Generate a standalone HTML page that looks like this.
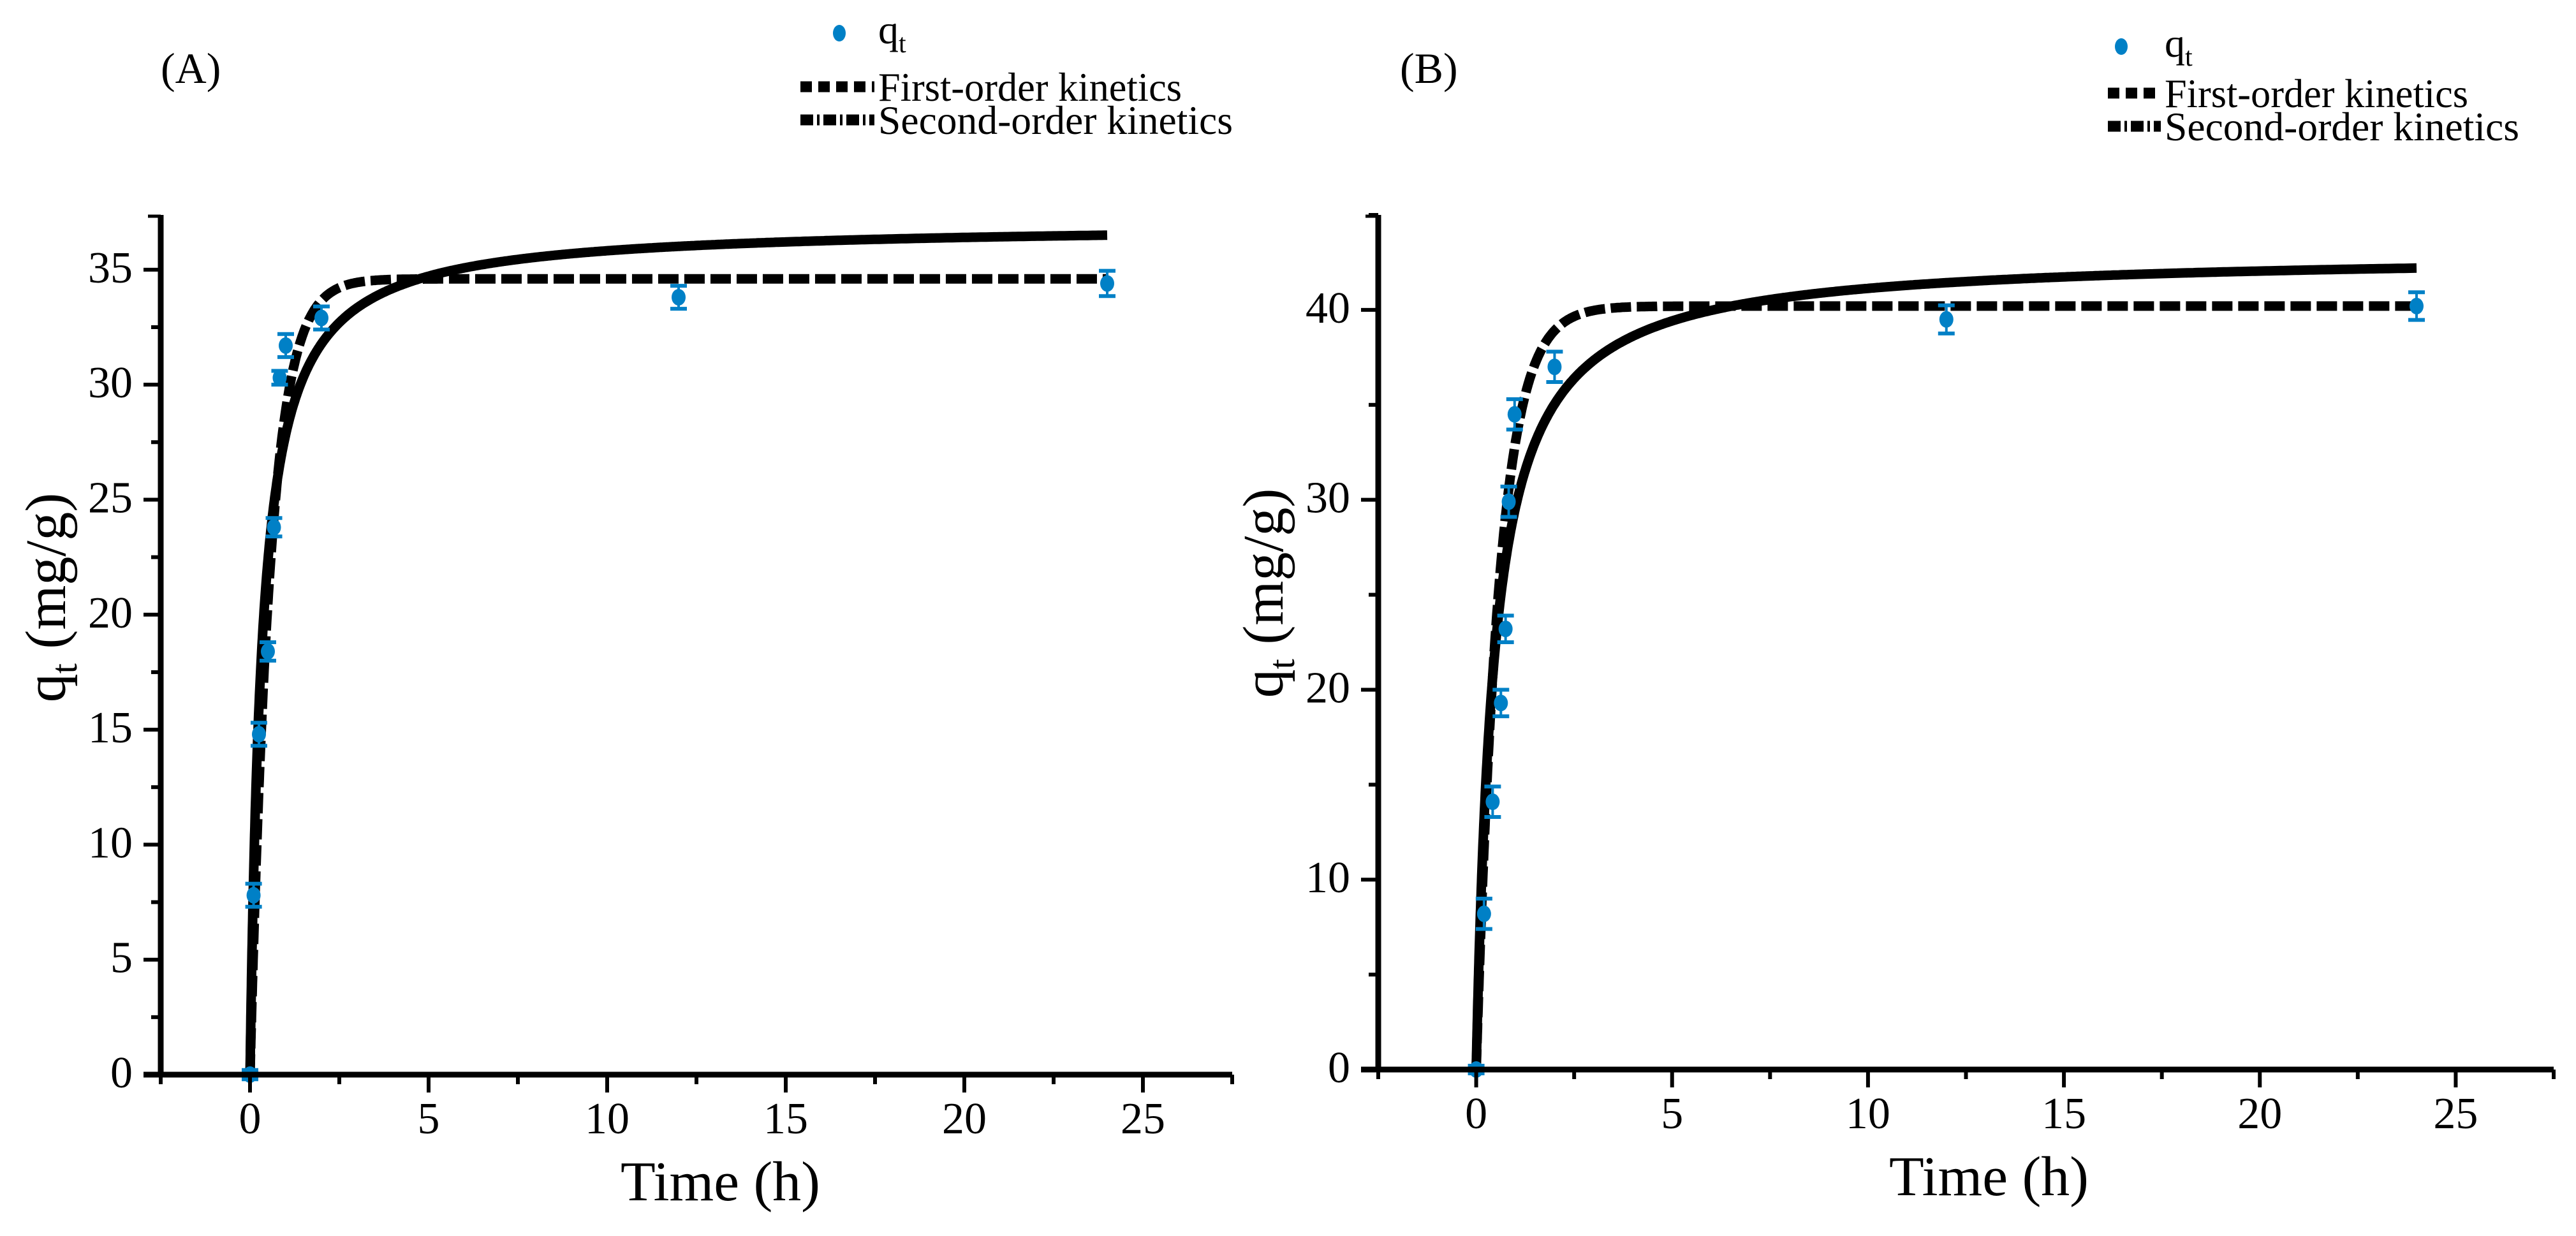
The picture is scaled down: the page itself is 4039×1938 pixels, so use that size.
<!DOCTYPE html>
<html><head><meta charset="utf-8"><style>
html,body{margin:0;padding:0;background:#fff;}
svg{display:block;font-family:"Liberation Serif",serif;}
</style></head><body>
<svg id="chart" width="4039" height="1938" viewBox="0 0 4039 1938" xmlns="http://www.w3.org/2000/svg">
<text x="252" y="130" font-size="68">(A)</text>
<text x="2195" y="130" font-size="68">(B)</text>
</svg>
<script>
// ---- data ----
const timesA = [0, 0.1, 0.25, 0.5, 0.67, 0.83, 1, 2, 12, 24];
const qtA = [0, 7.8, 14.8, 18.4, 23.8, 30.3, 31.7, 32.9, 33.8, 34.4];
const errA = [0.2, 0.5, 0.5, 0.4, 0.4, 0.3, 0.5, 0.5, 0.5, 0.55];
const timesB = [0, 0.2, 0.42, 0.63, 0.75, 0.83, 0.98, 2, 12, 24];
const qtB = [0, 8.2, 14.1, 19.3, 23.2, 29.9, 34.5, 37.0, 39.5, 40.2];
const errB = [0.2, 0.8, 0.8, 0.7, 0.7, 0.8, 0.8, 0.8, 0.74, 0.73];
// fitted model parameters [qe, k]
const firstOrderA = [34.6, 1.8];
const secondOrderA = [37.0, 0.0822];
const firstOrderB = [40.2, 1.72];
const secondOrderB = [43.0, 0.0512];
const xTicks = [0, 5, 10, 15, 20, 25];
const yTicksA = [0, 5, 10, 15, 20, 25, 30, 35];
const yTicksB = [0, 10, 20, 30, 40];

const NS = "http://www.w3.org/2000/svg";
const svg = document.getElementById('chart');
function mk(tag, attrs, parent){
  const e = document.createElementNS(NS, tag);
  for (const k in attrs) e.setAttribute(k, attrs[k]);
  (parent || svg).appendChild(e);
  return e;
}
function panel(cfg){
  const g = mk('g', {});
  
  
  const X = v => cfg.x0 + (v - cfg.xmin) / (cfg.xmax - cfg.xmin) * (cfg.x1 - cfg.x0);
  const Y = v => cfg.y0 - (v - cfg.ymin) / (cfg.ymax - cfg.ymin) * (cfg.y0 - cfg.y1);
  const N = 600;
  let d1 = '', d2 = '';
  for (let i = 0; i <= N; i++) {
    const t = 24 * Math.pow(i / N, 2);
    const f1 = cfg.fo[0] * (1 - Math.exp(-cfg.fo[1] * t));
    const qe = cfg.so[0], k = cfg.so[1];
    const f2 = qe * qe * k * t / (1 + qe * k * t);
    d1 += (i ? 'L' : 'M') + X(t).toFixed(1) + ' ' + Y(f1).toFixed(1);
    d2 += (i ? 'L' : 'M') + X(t).toFixed(1) + ' ' + Y(f2).toFixed(1);
  }
  const c2 = mk('path', {d: d2, fill: 'none', stroke: '#000', 'stroke-width': 15, 'stroke-linejoin': 'round'}, g);
  
  
  const c1 = mk('path', {d: d1, fill: 'none', stroke: '#000', 'stroke-width': 15, 'stroke-dasharray': '32 9'}, g);
  
  
  cfg.t.forEach((t, i) => {
    const px = X(t), py = Y(cfg.q[i]), e = cfg.e[i] * (cfg.y0 - cfg.y1) / (cfg.ymax - cfg.ymin);
    const pg = mk('g', {fill: '#0080c6', stroke: '#0080c6'}, g);
    
    
    mk('line', {x1: px, x2: px, y1: py - e, y2: py + e, 'stroke-width': 4}, pg);
    mk('line', {x1: px - 13, x2: px + 13, y1: py - e, y2: py - e, 'stroke-width': 6}, pg);
    mk('line', {x1: px - 13, x2: px + 13, y1: py + e, y2: py + e, 'stroke-width': 6}, pg);
    mk('ellipse', {cx: px, cy: py, rx: 11, ry: 13, stroke: 'none'}, pg);
  });
  const ax = mk('g', {stroke: '#000'}, g);
  
  
  mk('line', {x1: cfg.x0, x2: cfg.x0, y1: cfg.y1, y2: cfg.y0 + 4, 'stroke-width': 9}, ax);
  mk('line', {x1: cfg.x0 - 27, x2: cfg.x1, y1: cfg.y0, y2: cfg.y0, 'stroke-width': 9}, ax);
  for (let v = cfg.xmin; v <= cfg.xmax + 1e-6; v += 2.5) {
    const major = Math.abs(v / 5 - Math.round(v / 5)) < 1e-6;
    mk('line', {x1: X(v), x2: X(v), y1: cfg.y0, y2: cfg.y0 + (major ? 28 : 15), 'stroke-width': 6}, ax);
  }
  for (let v = cfg.ymin; v <= cfg.ymax + 1e-6; v += cfg.minor) {
    const major = Math.abs(v / cfg.major - Math.round(v / cfg.major)) < 1e-6;
    mk('line', {x1: cfg.x0 - (major ? 27 : 15), x2: cfg.x0, y1: Y(v), y2: Y(v), 'stroke-width': 6}, ax);
  }
  mk('line', {x1: cfg.x0 - 20, x2: cfg.x0, y1: cfg.y1 + 2, y2: cfg.y1 + 2, 'stroke-width': 5}, ax);
  xTicks.forEach(v => {
    const t = mk('text', {x: X(v), y: cfg.y0 + 92, 'font-size': 70, 'text-anchor': 'middle'}, g);
    t.textContent = v;
    
    
  });
  cfg.yt.forEach(v => {
    const t = mk('text', {x: cfg.x0 - 44, y: Y(v) + 20, 'font-size': 70, 'text-anchor': 'end'}, g);
    t.textContent = v;
    
    
  });
  const xt = mk('text', {x: cfg.xtx - 156, y: cfg.y0 + 197, 'font-size': 88, textLength: 313, lengthAdjust: 'spacingAndGlyphs'}, g);
  xt.textContent = 'Time (h)';
  
  
  const yt = mk('text', {x: 0, y: 0, 'font-size': 90, transform: `translate(${cfg.x0 - 150},${cfg.ytc}) rotate(-90)`, 'text-anchor': 'middle'}, g);
  yt.innerHTML = 'q<tspan font-size="58" dy="18">t</tspan><tspan dy="-18"> (mg/g)</tspan>';
  
  
  const L = cfg.leg;
  const lg = mk('g', {}, g);
  
  
  mk('ellipse', {cx: L.mx, cy: L.my, rx: 10, ry: 13, fill: '#0080c6'}, lg);
  const lq = mk('text', {x: L.tx, y: L.my + 16, 'font-size': 64}, lg);
  lq.innerHTML = 'q<tspan font-size="42" dy="14">t</tspan>';
  
  
  mk('line', {x1: L.sx, x2: L.tx - 6, y1: L.b1 - 22, y2: L.b1 - 22, stroke: '#000', 'stroke-width': 17, 'stroke-dasharray': '18 10'}, lg);
  const l1 = mk('text', {x: L.tx, y: L.b1, 'font-size': 64, textLength: 476, lengthAdjust: 'spacingAndGlyphs'}, lg);
  l1.textContent = 'First-order kinetics';
  
  
  mk('line', {x1: L.sx, x2: L.tx - 6, y1: L.b1 + 30, y2: L.b1 + 30, stroke: '#000', 'stroke-width': 17, 'stroke-dasharray': '20 6 4 6'}, lg);
  const l2 = mk('text', {x: L.tx, y: L.b1 + 52, 'font-size': 64, textLength: 556, lengthAdjust: 'spacingAndGlyphs'}, lg);
  l2.textContent = 'Second-order kinetics';
  
  
}
panel({id: 'panel-a', x0: 252, x1: 1932, xmin: -2.5, xmax: 27.5, y0: 1685, y1: 337, ymin: 0, ymax: 37.38,
  major: 5, minor: 2.5, yt: yTicksA, t: timesA, q: qtA, e: errA, fo: firstOrderA, so: secondOrderA,
  xtx: 1129, ytc: 937, leg: {mx: 1316, my: 52, tx: 1377, sx: 1255, b1: 158}});
panel({id: 'panel-b', x0: 2161, x1: 4004, xmin: -2.5, xmax: 27.5, y0: 1677, y1: 337, ymin: 0, ymax: 45,
  major: 10, minor: 5, yt: yTicksB, t: timesB, q: qtB, e: errB, fo: firstOrderB, so: secondOrderB,
  xtx: 3118, ytc: 930, leg: {mx: 3326, my: 73, tx: 3394, sx: 3305, b1: 168}});
</script>
</body></html>
